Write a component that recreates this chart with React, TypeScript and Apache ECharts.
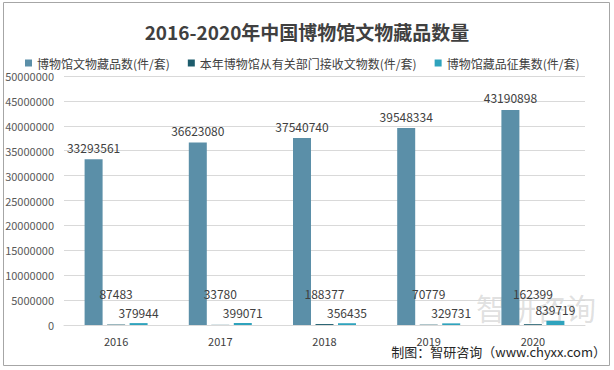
import React, { useEffect, useRef } from "react";
import * as echarts from "echarts";

const years = ["2016", "2017", "2018", "2019", "2020"];
const collection = [33293561, 36623080, 37540740, 39548334, 43190898];
const received = [87483, 33780, 188377, 70779, 162399];
const acquired = [379944, 399071, 356435, 329731, 839719];
const seriesNames = [
  "博物馆文物藏品数(件/套)",
  "本年博物馆从有关部门接收文物数(件/套)",
  "博物馆藏品征集数(件/套)",
];

export default function App() {
  const ref = useRef<HTMLDivElement>(null);
  useEffect(() => {
    if (!ref.current) return;
    const chart = echarts.init(ref.current, null, { renderer: "svg" });
    const font = "Microsoft YaHei, 'Noto Sans CJK SC', sans-serif";
    const labelStyle = { color: "#404040", fontSize: 12, fontFamily: font };
    chart.setOption({
      animation: false,
      backgroundColor: "#fff",
      textStyle: { fontFamily: font },
      title: {
        text: "2016-2020年中国博物馆文物藏品数量",
        left: "center",
        top: 17,
        textStyle: { fontSize: 19, fontWeight: "bold", color: "#404040", fontFamily: font },
      },
      legend: {
        top: 52,
        left: 20,
        itemWidth: 7,
        itemHeight: 7,
        itemGap: 18,
        icon: "rect",
        textStyle: { fontSize: 12, color: "#404040", fontFamily: font },
        data: seriesNames,
      },
      grid: { left: 64, right: 29, top: 76, bottom: 45 },
      xAxis: {
        type: "category",
        data: years,
        axisLine: { lineStyle: { color: "#d9d9d9" } },
        axisTick: { show: false },
        axisLabel: { color: "#404040", fontSize: 11, margin: 10 },
      },
      yAxis: {
        type: "value",
        min: 0,
        max: 50000000,
        interval: 5000000,
        axisLine: { show: false },
        axisTick: { show: false },
        splitLine: { lineStyle: { color: "#d9d9d9" } },
        axisLabel: {
          color: "#595959",
          fontSize: 11,
          margin: 10,
          formatter: (v: number) => String(v),
        },
      },
      series: [
        {
          name: seriesNames[0],
          type: "bar",
          data: collection,
          barWidth: 18,
          barGap: "25%",
          itemStyle: { color: "#5b8fa8" },
          label: { show: true, position: "top", distance: 6, ...labelStyle },
        },
        {
          name: seriesNames[1],
          type: "bar",
          data: received,
          barWidth: 18,
          itemStyle: { color: "#1d5c6c" },
          label: { show: true, position: "top", distance: 5, offset: [0, -20], ...labelStyle },
        },
        {
          name: seriesNames[2],
          type: "bar",
          data: acquired,
          barWidth: 18,
          itemStyle: { color: "#2fa3bd" },
          label: { show: true, position: "top", distance: 5, ...labelStyle },
        },
      ],
      graphic: [
        {
          type: "rect",
          shape: { x: 3.5, y: 2.5, width: 606, height: 363 },
          style: { fill: "none", stroke: "#a6a6a6", lineWidth: 1 },
          silent: true,
        },
        {
          type: "text",
          left: 476,
          top: 292,
          style: {
            text: "智研咨询",
            fill: "rgba(150,150,150,0.3)",
            fontSize: 30,
            fontFamily: font,
          },
          silent: true,
        },
        {
          type: "text",
          right: 8,
          top: 345,
          style: {
            text: "制图：智研咨询（www.chyxx.com）",
            fill: "#262626",
            fontSize: 13,
            fontFamily: font,
          },
          silent: true,
        },
      ],
    });
    return () => chart.dispose();
  }, []);
  return (
    <div
      ref={ref}
      style={{ position: "absolute", left: 0, top: 0, width: 614, height: 370 }}
    />
  );
}
